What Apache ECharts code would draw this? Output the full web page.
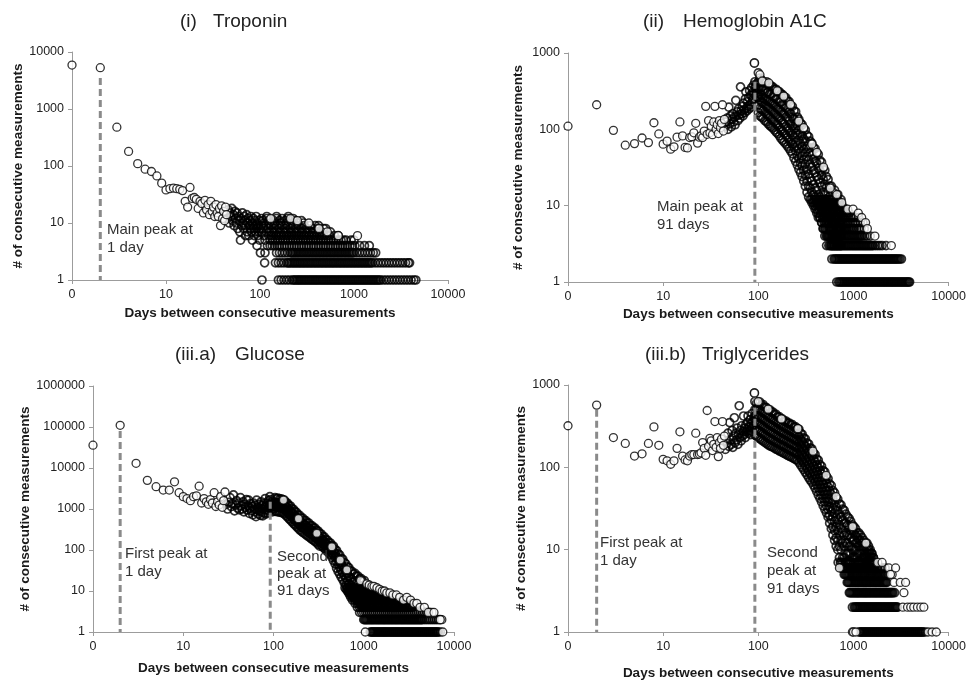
<!DOCTYPE html>
<html><head><meta charset="utf-8">
<script src="https://cdn.jsdelivr.net/npm/echarts@6/dist/echarts.min.js"></script>
<style>html,body{margin:0;padding:0;background:#fff;}#c{width:969px;height:681px;}</style>
</head><body><div id="c"></div>
<script>
// ---------------- tick labels ----------------
const xTickValues = [1, 10, 100, 1000, 10000];
const xTickLabels = ['0', '10', '100', '1000', '10000'];

// ---------------- (i) Troponin ----------------
const troponinDays = [1,2,3,4,5,6,7,8,9,10,11,12,13,14,15,16,17,18,19,20,21,22,23,24,25,26,27,28,29,30,31,32,33,34,35,36,37,38,39,40,41,42,43,44,45,46,47,48,49,50,51,52,53,54,55,56,57,58,59,60,61,62,63,64,65,66,67,68,69,70,71,72,73,74,75,76,77,78,79,80,81,82,83,84,85,86,87,88,89,90,91,92,93,94,95,96,97,98,99,100,101];
const troponinCounts = [5900,5300,480,180,110,88,80,67,50,38,
40,41,40,39,37,24,19,42,27,28,
26,18,24,22,15,25,17,21,14,24,
16,19,13,21,15,13,18,9,20,12,
16,11,19,14,12,17,10,15,13,18,
11,14,9,16,12,10,15,8,13,11,
7,5,12,9,15,10,8,13,11,6,
9,14,7,10,12,6,9,11,8,13,
7,10,5,9,12,8,6,11,7,9,
13,8,4,10,6,9,7,11,5,8,
3];
const troponinRow1 = [105,157,168,180,193,206,221,236,253,270,289,309,331,354,379,405,434,464,497,531,569,608,651,697,745,798,854,913,977,1046,1119,1197,1281,1371,1467,1570,1680,1797,1923,2058,2202,2356,2521,2697,2886,3088,3305,3536,3783,4048,4331,4550,228,245,261,279,299,320,342,366,392,419,449,480,514,550,588,629,674,721,771,825,883,945,1011,1082,1158,1239,1325,1418,1518,1624,1738,1860];
const troponinRow2 = [112,146,157,168,180,193,206,221,236,253,270,289,309,331,354,379,405,434,464,497,531,569,608,651,697,745,798,854,913,977,1046,1119,1197,1281,1371,1467,1570,1680,1797,1923,2058,2202,2356,2521,2697,2886,3088,3305,3536,3783,3900,199,213,229,245,262,280,299,320,342,366,392,419,449,480,514,550,588,629,674,721,771,825,883,945,1011,1082,1158,1239,1325,1418,1518];
const troponinRow3 = [113,150,161,172,184,197,211,225,241,258,276,295,316,338,362,387,414,443,474,507,543,581,621,665,711,761,814,871,932,998,1067,1142,1222,1308,1399,1497,1602,1700,218,233,249,267,286,306,327,350,375,401,429,459,491,525,562,601,643,688,736,788,843,901,965];
const troponinRow4 = [120,135,152,171,193,218,245,276,311,350,394,444,500,563,634,714,804,905,1019,1147,1292,1455,128,143,161,182,205,231,260,293,330,372,419,472,531,598,673,758,853,960];
const troponinRow5 = [113,128,145,164,186,211,239,270,306,346,392,443,502,568,643,728,824,933,1000,136,154,175,198,224,254,288,326,369,417,472,535,605,685,775];
const troponinRow6 = [110,124,140,158,179,203,230,260,294,333,377,427,483,547,619,680,132,149,168,191,216,245,277,313,354,401,454,514];
const troponinRow7 = [104,117,133,152,175,200,229,262,300,343,393,450,560,125,142,163,187,214,245,280,320,367,420];
const troponinRow8 = [108,122,140,160,184,211,241,276,316,362,414,474,500];
const troponinRow9 = [103,115,131,150,172,197,225,258,295,338,387,420];
const troponinRow10 = [110,126,143,165,190,218,250,290];
const troponinRow11 = [107,123,140,161,184,211,241,276];
const troponinRow12 = [104,118,150,172,197,225];
const troponinRow13 = [118,150,200];
const troponinExtraDays = [130,211,250,331,424,520,680,1090];
const troponinExtraCounts = [12,12,11,10,8,7,6,6];
const troponinPeakDays = [2];
const troponinPeakTops = [3500];

// ---------------- (ii) Hemoglobin A1C ----------------
const hbaDays = [1,2,3,4,5,6,7,8,9,10,11,12,13,14,15,16,17,18,19,20,21,22,23,24,25,26,27,28,29,30,31,32,33,34,35,36,37,38,39,40,41,42,43,44,45,46,47,48,49,50,51,52,53,54,55,56,57,58,59,60,61,62,63,64,65,66,67,68,69,70,71,72,73,74,75,76,77,78,79,80,81,82,83,84,85,86,87,88,89,90,91,92,93,94,95,96,97,98,99];
const hbaCounts = [110,210,97,62,65,77,67,122,87,64,
70,55,59,79,125,82,58,57,78,80,
90,120,66,79,82,78,95,200,86,130,
90,110,85,125,200,100,115,88,130,105,
120,210,95,135,110,125,140,100,195,118,
150,108,135,160,125,145,115,240,150,170,
130,185,155,140,360,175,160,200,150,220,
180,165,250,310,190,175,230,200,260,185,
320,210,280,195,350,230,300,250,380,290,
740,420,350,380,300,330,260,400,280];
const hbaBandDays = [100,104,108,112,117,122,127,132,137,142,148,154,160,167,173,180,187,195,203,211,219,228,237,247,257,267,278,289,300,312,325,338,351,365,380,395,411,427,444,462,481,500,520,541,562,585,608,633,658,684,712,740];
const hbaBandUpper = [550,470,445,415,405,420,390,385,365,360,335,335,315,310,290,285,265,260,235,230,205,200,175,170,145,135,120,115,102,98,84,80,70,66,58,56,49,47,39,37,31,29,24,22,18,18,15,16,13,14,11,12];
const hbaBandMid1 = [420,360,350,330,320,300,310,290,295,270,265,250,248,230,228,210,205,190,185,168,160,145,136,120,112,98,88,83,75,70,60,56,50,46,41,38,36,31,29,25,22,19,17,15,13,12,11,10,10,9,9,8];
const hbaBandMid2 = [340,290,280,255,250,240,235,230,220,215,208,195,185,180,170,160,158,145,140,128,118,110,102,90,84,72,65,60,55,50,44,40,35,32,29,27,24,22,20,18,15,14,12,11,10,8,8,7,7,7,6,6];
const hbaBandMid3 = [265,245,228,222,212,200,192,186,175,168,162,154,146,140,132,122,118,108,104,96,90,84,78,68,61,55,49,45,40,35,30,26,23,21,19,17,16,14,13,12,10,10,8,8,7,6,6,6,5,5,5,5];
const hbaBandMid4 = [210,188,182,176,168,158,152,144,136,130,126,118,114,106,98,94,88,84,78,74,68,64,58,52,45,41,36,33,29,25,21,18,17,15,14,13,11,10,10,9,7,7,6,6,5,4,4,4,4,4,4,4];
const hbaBandLower = [165,150,145,140,130,125,118,112,108,104,98,92,88,82,76,72,68,64,60,56,52,48,42,38,34,30,27,24,21,18,15,13,12,11,10,9,8,7,7,6,5,5,4,4,4,3,3,3,3,3,3,3];
const hbaRow1 = [668,700,740,780,825,870,920,970,1025,1080,1140,1200,1270,1340,1410,1490,1570,1660,1750,1850,1950,2060,2170,2290,2420,2550,2690,2840,3000,3170,3340,3530,3720,3890,720,760,803,847,895,945,997,1052,1110,1170,1235,1305,1375,1450,1530,1615,1705,1800,1900,2005,2115,2230,2355,2485,2620,2765,2920,3085,3255,3435,3625,3810];
const hbaRow2 = [593,625,660,697,735,776,819,864,912,962,1015,1071,1130,1193,1259,1328,1401,1479,1560,1646,1737,1833,1934,2041,2153,2272,2397,2530,2669,2816,2972,3190,642,678,716,755,797,841,888,937,988,1043,1100,1161,1225,1293,1364,1440,1519,1603,1691,1785,1883,1987,2097,2212,2334,2463,2600,2742,2894,3080];
const hbaRow3 = [522,551,581,613,647,683,720,760,802,846,893,942,994,1049,1107,1168,1232,1300,1372,1448,1528,1612,1701,1795,1894,2000,2200,566,597,630,665,701,740,781,824,869,917,968,1021,1077,1137,1200,1266,1336,1410,1488,1570];
const hbaRow4 = [500,528,557,588,620,654,690,728,768,810,855,902,952,1004,1060,1118,1180,1245,1313,1385,1500,542,572,604,637,672,709,748,789,832,878,927,978,1032,1089,1149,1212];
const hbaRow5 = [481,508,536,566,597,630,665,702,741,782,825,870,918,969,1022,1078,1138,1200,1300,522,551,581,613,647,683,721,761,803,847,894,943,995];
const hbaRow6 = [465,491,518,547,577,609,643,678,716,755,797,841,887,936,988,1042,1100,1180,1260,504,532,561,592,625,660,697,735,776,819,864];
const hbaRow7 = [444,469,495,522,551,581,613,647,683,720,760,802,846,893,942,994,1050,1130];
const hbaRow8 = [427,451,476,502,530,559,590,623,657,693,731,771,813,858,905];
const hbaRow9 = [411,434,458,483,510,538,568,599,632,667,704,743,784,827];
const hbaRow10 = [395,417,440,464,490,517,546,576,608,641,676,713,760];
const hbaRow11 = [380,401,423,446,471,497,524,553,583,615,650,700];
const hbaRow12 = [365,385,406,428,452,477,503,531,560,590,620,680];
const hbaExtraDays = [104,110,129,158,185,218,266,300,366,413,485,570,668,753,870,990,1125,1220,1340,1400,1680,2500];
const hbaExtraCounts = [520,430,405,320,272,212,128,105,64,50,32,17,14,11,9,9,8,7,6,5,4,3];
const hbaPeakDays = [92];
const hbaPeakTops = [420];

// ---------------- (iii.a) Glucose ----------------
const gluDays = [1,2,3,4,5,6,7,8,9,10,11,12,13,14,15,16,17,18,19,20,21,22,23,24,25,26,27,28,29,30,31,32,33,34,35,36,37,38,39,40,41,42,43,44,45,46,47,48,49,50,51,52,53,54,55,56,57,58,59,60,61,62,63,64,65,66,67,68,69,70,71,72,73,74,75,76,77,78,79,80,81,82,83,84,85,86,87,88,89,90,91,92,93,94,95,96,97,98,99,100];
const gluCounts = [36000,110000,13000,5000,3500,2900,2900,4600,2500,2000,
1800,1600,2000,2100,3600,1400,1800,1500,1300,1700,
1400,2500,1150,1500,1250,2000,1100,1600,2600,1300,
1000,1450,1900,1150,1350,2200,900,1250,1600,1050,
1400,950,1900,1200,1000,1500,850,1300,1100,1700,
950,1200,1650,780,1050,1350,900,1150,720,1400,
1000,850,1250,650,1650,950,1100,750,1300,900,
1050,700,1500,850,1200,680,1000,1350,800,1100,
1800,750,1200,950,1400,800,1050,1600,900,1250,
2000,1100,1700,950,1300,1500,850,1200,1400,1000];
const gluBandDays = [104,108,112,117,122,127,132,137,142,148,
154,160,167,173,180,187,195,203,211,219,
228,237,247,257,267,278,289,300,312,325,
338,351,365,380,395,411,427,444,462,481,
500,520,541,562,585,608,633,658,684,712,
740,770,800,832,865,900,936,973,1012];
const gluBandUpper = [1900,1800,1850,1750,1780,1680,1650,1450,1400,1220,
1180,1020,980,860,830,720,700,600,600,530,
520,460,450,395,390,345,340,300,290,255,
245,215,208,180,174,152,148,128,124,103,
97,81,76,63,60,50,46,39,37,31,
30,26,27,23,23,20,20,17,18];
const gluBandMid1 = [1450,1434,1410,1383,1356,1331,1257,1154,1068,971,
889,815,739,683,625,573,522,481,450,421,
393,366,342,318,297,279,259,244,223,203,
188,174,160,146,134,123,113,103,94,83,
68,59,52,45,40,35,31,27,23,21,
19,17,17,15,14,13,12,11,10];
const gluBandMid2 = [1130,1117,1100,1078,1057,1036,978,897,830,755,
691,632,572,529,484,443,404,372,349,327,
306,285,267,249,233,219,204,192,175,159,
155,143,131,120,110,101,93,84,75,66,
52,44,38,32,28,24,21,18,15,14,
12,11,11,10,9,8,8,7,6];
const gluBandLower = [880,870,855,838,820,805,760,697,644,585,
535,490,443,410,375,343,312,288,271,254,
238,223,209,195,183,172,161,152,137,124,
130,120,110,100,92,84,76,66,55,46,
36,30,26,22,19,16,14,12,10,9,
8,7,7,6,6,5,5,4,4];
const gluRow1 = [1180,1240,1300,1370,1440,1510,1590,1670,1750,1840,1940,2040,2140,2250,2360,2480,2610,2740,2880,3030,3180,3340,3510,3690,3880,4080,4290,4510,4740,4980,5230,5500,5780,6080,6390,6710,7050,1210,1270,1335,1405,1475,1550,1630,1710,1795,1890,1990,2090,2195,2305,2420,2545,2675,2810,2955,3105,3260,3425,3600,3785,3980,4185,4400,4625,4860,5105,5365,5640,5930,6235,6550];
const gluRow2 = [1000,1050,1100,1160,1220,1280,1350,1420,1490,1570,1650,1730,1820,1910,2010,2110,2220,2330,2450,2580,2710,2850,3000,3150,3310,3480,3660,3850,4050,4260,4480,4710,4950,5210,5480,5760,6060,6370,6700,7040,1025,1075,1130,1190,1250,1315,1385,1455,1530,1610,1690,1775,1865,1960,2060,2165,2275,2390,2515,2645,2780,2925,3075,3230,3395,3570,3755,3950,4155,4370];
const gluRow3 = [900,950,1000,1050,1100,1160,1220,1280,1350,1420,1490,1570,1650,1730,1820,1910,2010,2110,2220,2330,2450,2580,2710,2850,3000,3150,3310,3480,3660,3850,4050,4260,4480,4710,5000,5300];
const gluRow4 = [850,900,950,1000,1050,1100,1160,1220,1280,1350,1420,1490,1570,1650,1730,1820,1910,2010,2110,2220,2330,2450,2580,2710,2850,3000,3150,3310,3480];
const gluRow5 = [800,850,900,950,1000,1050,1100,1160,1220,1280,1350,1420,1490,1570,1650,1730,1820,1910,2010,2110,2220,2330,2450,2580,2710,2850,3000,3200,3500];
const gluRow6 = [750,800,850,900,950,1000,1050,1100,1160,1220,1280,1350,1420,1490,1570,1650,1730,1820,1910,2010,2110,2220,2330,2450,2580];
const gluRow7 = [720,760,800,850,900,950,1000,1050,1100,1160,1220,1280,1350,1420,1490,1570,1650,1730,1820,1910,2010,2110,2220,2400];
const gluRow8 = [700,740,780,820,870,920,970,1020,1080,1140,1200,1260,1330,1400,1470,1550,1630,1720,1800,1950];
const gluRow9 = [680,720,760,800,840,890,940,990,1040,1100,1160,1220,1290,1360,1430,1500,1600];
const gluRow10 = [660,700,740,780,820,870,920,970,1020,1080,1140,1200,1270,1340,1450];
const gluRow11 = [640,680,720,760,800,850,900,950,1000,1060,1120,1200,1300];
const gluRow12 = [620,660,700,740,780,830,880,930,990,1050,1110,1200];
const gluExtraDays = [129,189,302,443,548,650,920,1040,7510,7330,5700,1082,1150,1230,1300,1400,1500,1600,1700,1800,1950,2100,2300,2500,2760,3000,3300,3600,3870,4200,4700,5200,6000,7040];
const gluExtraCounts = [1650,580,256,120,57,33,18,1,1,2,3,15,14,13,13,12,11,10,10,9,9,8,8,7,6,7,6,5,5,4,4,3,3,2];
const gluPeakDays = [2, 92];
const gluPeakTops = [80000, 1500];

// ---------------- (iii.b) Triglycerides ----------------
const trigDays = [1,2,3,4,5,6,7,8,9,10,11,12,13,14,15,16,17,18,19,20,21,22,23,24,25,26,27,28,29,30,31,32,33,34,35,36,37,38,39,40,41,42,43,44,45,46,47,48,49,50,51,52,53,54,55,56,57,58,59,60,61,62,63,64,65,66,67,68,69,70,71,72,73,74,75,76,77,78,79,80,81,82,83,84,85,86,87,88,89,90,91];
const trigCounts = [320,570,230,195,137,146,195,310,185,125,
120,109,120,170,270,137,123,120,137,143,
143,260,143,145,150,200,170,140,490,180,
225,210,160,190,360,175,230,135,200,170,
220,360,185,240,165,210,195,260,180,350,
215,190,280,175,240,400,200,260,215,300,
190,250,560,230,280,210,320,240,270,420,
250,300,230,330,270,290,350,420,260,310,
280,380,250,340,300,450,270,360,320,400,
800];
const trigBandDays = [92,96,100,104,108,112,117,122,127,132,
137,142,148,154,160,167,173,180,187,195,
203,211,219,228,237,247,257,267,278,289,
300,312,325,338,351,365,380,395,411,427,
444,462,481,500,520,541,562,585,608,633,
658,684,712,740,770,800,
832,865,900,936,973,1012,1052,1094,1138,1184,1231,1280,1331,1385,1440,1498,1558,1620];
const trigBandUpper = [630,600,610,620,570,580,540,530,500,500,
470,470,440,440,410,410,385,385,365,365,
345,345,330,330,310,310,295,290,260,252,
228,222,198,192,172,168,150,143,126,122,
108,103,91,88,77,73,63,60,52,49,
43,41,36,35,31,30,
27,25,24,22,20,19,18,16,16,15,14,13,12,12,11,10,9,8];
const trigBandMid1 = [502,510,515,498,482,466,448,432,416,404,
391,381,369,357,346,334,325,316,308,300,
291,284,277,270,263,256,250,237,221,206,
194,181,168,156,146,137,127,117,107,99,
91,83,76,70,64,58,52,47,41,37,
33,30,27,25,23,21,
21,20,19,17,17,16,15,14,13,13,12,11,11,10,10,9,9,8];
const trigBandMid2 = [420,421,420,407,394,382,367,354,341,331,
322,314,304,295,287,277,270,263,256,250,
243,237,231,226,219,213,209,198,184,172,
162,151,140,130,122,114,106,97,89,82,
75,68,62,57,52,47,41,37,32,28,
25,23,20,18,16,15,
16,15,15,14,13,13,12,12,11,11,10,10,9,9,9,8,8,7];
const trigBandMid3 = [351,348,344,333,323,312,300,290,280,271,
265,259,251,243,238,230,224,218,214,208,
202,197,192,188,183,178,175,165,154,143,
135,126,117,108,101,95,88,81,74,68,
62,56,51,47,42,38,33,29,25,22,
19,17,15,13,12,11,
12,12,11,11,10,10,10,9,9,9,8,8,8,8,8,7,7,7];
const trigBandMid4 = [294,288,281,272,264,256,246,238,229,222,
218,213,207,201,197,191,186,182,178,173,
168,164,161,157,153,148,146,138,128,120,
113,105,97,90,84,79,73,67,61,56,
51,46,42,38,34,31,26,23,19,17,
14,13,11,10,8,8,
9,9,9,9,8,8,8,8,7,7,7,7,7,7,7,7,6,6];
const trigBandLower = [246,238,230,222,216,209,201,195,188,183,
179,176,171,166,163,158,155,151,148,144,
140,137,134,131,128,124,122,115,107,100,
94,87,81,75,70,66,61,56,51,46,
42,38,34,31,28,25,21,18,15,13,
11,10,8,7,6,6,
7,7,7,7,6,6,6,6,6,6,6,6,6,6,6,6,6,6];
const trigRow1 = [1150,1200,1260,1320,1380,1450,1520,1590,1670,1750,1830,1920,2010,2110,2210,2320,2430,2550,2670,2800,2940,3080,3230,3390,3550,3720,3900,4090,4290,4500,4720,4950,5190,5440,5700,1175,1230,1290,1350,1415,1485,1555,1630,1710,1790,1875,1965,2060,2160,2265,2375,2490,2610,2735,2870,3010,3155,3310,3470,3635,3810,3995,4190,4395,4610,4835,5070,5315];
const trigRow2 = [975,1020,1070,1120,1180,1240,1300,1360,1430,1500,1570,1650,1730,1810,1900,1990,2090,2190,2300,2410,2530,2650,2780,2900,1045,1095,1150,1210,1270,1330,1395,1465,1535,1610,1690,1770,1855,1945,2040,2140,2245,2355,2470,2590,2715,2840];
const trigRow3 = [905,950,1000,1050,1100,1150,1210,1270,1330,1390,1460,1530,1610,1690,1770,1860,1950,2050,2150,2250,2360,2480,2600,2700,925,975,1025,1075,1125,1180,1240,1300,1360,1425,1495,1570,1650,1730,1815,1905,2000,2100,2200,2305,2420,2540];
const trigRow4 = [860,900,950,1000,1050,1100,1150,1210,1270,1330,1390,1460,1530,1610,1690,1770,1860,1950,2050,2150,2250,880,925,975,1025,1075,1125,1180,1240,1300,1360,1425,1495,1570,1650,1730,1815,1905,2000,2100,2200];
const trigRow5 = [800,840,880,920,970,1020,1070,1120,1180,1240,1300,1360,1430,1500,1570,1650,1730,1810,1900,1990,2090,2190,2300,820,860,900,945,995,1045,1095,1150,1210,1270,1330,1395,1465,1535,1610,1690,1770,1855,1945,2040,2140];
const trigRow6 = [750,790,830,870,920,970,1020,1070,1120,1180,1240,1300,1360,1430,1500,1570,1650,1730,1810,1900,2000,2150,730,770,810,850,895,945,995,1045,1095,1150,1210,1270,1330,1395,1465,1535,1610,1690,1770];
const trigRow7 = [690,730,770,815,860,905,955,1010,1065,1120,1185,1250,1320,1400,1480,1560,1650];
const trigExtraDays = [100,127,175,261,375,516,657,712,980,1350,1800,2000,2350,2550,2770,2450,2670,3100,3530,3390,3300,3700,4000,4300,4700,5100,5490,975,1000,1060,6100,6700,7420];
const trigExtraCounts = [630,508,387,295,157,80,44,6,19,12,7,7,6,5,6,5,4,4,4,3,2,2,2,2,2,2,2,1,1,1,1,1,1];
const trigPeakDays = [2, 92];
const trigPeakTops = [500, 720];

// ---------------- helpers ----------------
const FONT = '"Liberation Sans", Arial, Helvetica, sans-serif';
function zip(days, counts) { return days.map((d, i) => [d, counts[i]]); }
function row(days, count) { return days.map(d => [d, count]); }
function lanes(days, laneList) { const out = []; laneList.forEach(l => l.forEach((c, i) => out.push([days[i], c]))); return out; }
function early(days, counts, from, to) { return zip(days, counts).filter(p => p[0] >= from && p[0] <= to); }

// points drawn as outlines only where they pile up, white-filled where they stand alone
const troponinDense = [].concat(
  row(troponinRow1,1), row(troponinRow2,2), row(troponinRow3,3), row(troponinRow4,4), row(troponinRow5,5),
  row(troponinRow6,6), row(troponinRow7,7), row(troponinRow8,8), row(troponinRow9,9), row(troponinRow10,10),
  row(troponinRow11,11), row(troponinRow12,12), row(troponinRow13,13),
  early(troponinDays, troponinCounts, 45, 1e9));
const troponinWhite = [].concat(early(troponinDays, troponinCounts, 0, 44), zip(troponinExtraDays, troponinExtraCounts));

const hbaDense = [].concat(
  row(hbaRow1,1), row(hbaRow2,2), row(hbaRow3,3), row(hbaRow4,4), row(hbaRow5,5), row(hbaRow6,6),
  row(hbaRow7,7), row(hbaRow8,8), row(hbaRow9,9), row(hbaRow10,10), row(hbaRow11,11), row(hbaRow12,12),
  lanes(hbaBandDays, [hbaBandLower, hbaBandMid4, hbaBandMid3, hbaBandMid2, hbaBandMid1, hbaBandUpper]),
  early(hbaDays, hbaCounts, 45, 1e9));
const hbaWhite = [].concat(early(hbaDays, hbaCounts, 0, 44), zip(hbaExtraDays, hbaExtraCounts), early(hbaDays, hbaCounts, 91, 91));

const gluDense = [].concat(
  row(gluRow1,1), row(gluRow2,2), row(gluRow3,3), row(gluRow4,4), row(gluRow5,5), row(gluRow6,6),
  row(gluRow7,7), row(gluRow8,8), row(gluRow9,9), row(gluRow10,10), row(gluRow11,11), row(gluRow12,12),
  lanes(gluBandDays, [gluBandLower, gluBandMid2, gluBandMid1, gluBandUpper]),
  early(gluDays, gluCounts, 30, 1e9));
const gluWhite = [].concat(early(gluDays, gluCounts, 0, 29), zip(gluExtraDays, gluExtraCounts));

const trigDense = [].concat(
  row(trigRow1,1), row(trigRow2,2), row(trigRow3,3), row(trigRow4,4), row(trigRow5,5), row(trigRow6,6), row(trigRow7,7),
  lanes(trigBandDays, [trigBandLower, trigBandMid4, trigBandMid3, trigBandMid2, trigBandMid1, trigBandUpper]),
  early(trigDays, trigCounts, 45, 1e9));
const trigWhite = [].concat(early(trigDays, trigCounts, 0, 44), zip(trigExtraDays, trigExtraCounts), early(trigDays, trigCounts, 91, 91));

const panels = [
  { dense: troponinDense, white: troponinWhite, yMax: 10000, peaks: troponinPeakDays, tops: troponinPeakTops,
    grid: { left: 72, top: 52, width: 376, height: 228 }, yGap: 43, xGap: 26 },
  { dense: hbaDense, white: hbaWhite, yMax: 1000, peaks: hbaPeakDays, tops: hbaPeakTops,
    grid: { left: 568, top: 53, width: 383, height: 229 }, yGap: 43, xGap: 25 },
  { dense: gluDense, white: gluWhite, yMax: 1000000, peaks: gluPeakDays, tops: gluPeakTops,
    grid: { left: 93, top: 386, width: 361, height: 246 }, yGap: 60, xGap: 29 },
  { dense: trigDense, white: trigWhite, yMax: 1000, peaks: trigPeakDays, tops: trigPeakTops,
    grid: { left: 568, top: 385, width: 383, height: 256 }, yGap: 36, xGap: 34 }
];

const axisLineStyle = { color: '#9c9c9c', width: 1 };
const nameStyle = { fontFamily: FONT, fontSize: 13.5, fontWeight: 'bold', color: '#1a1a1a' };
const labelStyle = { fontFamily: FONT, fontSize: 12.5, color: '#222' };

const grids = [], xAxes = [], yAxes = [], series = [];
panels.forEach((p, i) => {
  grids.push(Object.assign({ containLabel: false }, p.grid));
  xAxes.push({
    type: 'log', logBase: 10, gridIndex: i, min: 1, max: 10000,
    name: 'Days between consecutive measurements', nameLocation: 'middle', nameGap: p.xGap,
    nameTextStyle: nameStyle,
    axisLine: { show: true, lineStyle: axisLineStyle },
    axisTick: { show: true, length: 4, lineStyle: axisLineStyle },
    minorTick: { show: false }, splitLine: { show: false },
    axisLabel: Object.assign({ margin: 8, showMinLabel: true, showMaxLabel: true,
      formatter: v => { const k = xTickValues.findIndex(t => Math.abs(Math.log10(t) - Math.log10(v)) < 1e-6); return k >= 0 ? xTickLabels[k] : ''; } }, labelStyle)
  });
  yAxes.push({
    type: 'log', logBase: 10, gridIndex: i, min: 1, max: p.yMax,
    name: '# of consecutive measurements', nameLocation: 'middle', nameRotate: 90, nameGap: p.yGap,
    nameTextStyle: nameStyle,
    axisLine: { show: true, lineStyle: axisLineStyle },
    axisTick: { show: true, length: 4, lineStyle: axisLineStyle },
    minorTick: { show: false }, splitLine: { show: false },
    axisLabel: Object.assign({ margin: 8, showMinLabel: true, showMaxLabel: true,
      formatter: v => String(Math.round(v)) }, labelStyle)
  });
  const base = { type: 'scatter', xAxisIndex: i, yAxisIndex: i, symbol: 'circle', symbolSize: 8,
    silent: true, animation: false, progressive: 0, large: false, clip: false };
  series.push(Object.assign({}, base, { data: p.dense, z: 2,
    itemStyle: { color: 'rgba(255,255,255,0)', borderColor: '#000000', borderWidth: 1.7 } }));
  series.push(Object.assign({}, base, { data: p.white, z: 4,
    itemStyle: { color: '#ffffff', borderColor: '#000000', borderWidth: 1.3 } }));
  p.peaks.forEach((d, k) => {
    series.push({
      type: 'line', xAxisIndex: i, yAxisIndex: i, data: [[d, p.tops[k]], [d, 1]],
      symbol: 'none', showSymbol: false, silent: true, animation: false, z: 3,
      lineStyle: { color: '#8a8a8a', width: 3, type: [7, 4] }
    });
  });
});

function txt(x, y, text, size, opts) {
  return Object.assign({ type: 'text', x: x, y: y, silent: true, z: 100,
    style: Object.assign({ text: text, fill: '#222', font: size + 'px ' + FONT, align: 'left', verticalAlign: 'middle' }, opts || {}) });
}
const graphics = [
  txt(180, 22, '(i)', 19), txt(213, 22, 'Troponin', 19),
  txt(643, 22, '(ii)', 19), txt(683, 22, 'Hemoglobin A1C', 19),
  txt(175, 355, '(iii.a)', 19), txt(235, 355, 'Glucose', 19),
  txt(645, 355, '(iii.b)', 19), txt(702, 355, 'Triglycerides', 19),
  txt(107, 221, 'Main peak at\n1 day', 15, { verticalAlign: 'top', lineHeight: 18, fill: '#333' }),
  txt(657, 198, 'Main peak at\n91 days', 15, { verticalAlign: 'top', lineHeight: 18, fill: '#333' }),
  txt(125, 545, 'First peak at\n1 day', 15, { verticalAlign: 'top', lineHeight: 18, fill: '#333' }),
  txt(277, 548, 'Second\npeak at\n91 days', 15, { verticalAlign: 'top', lineHeight: 17, fill: '#333' }),
  txt(600, 534, 'First peak at\n1 day', 15, { verticalAlign: 'top', lineHeight: 18, fill: '#333' }),
  txt(767, 544, 'Second\npeak at\n91 days', 15, { verticalAlign: 'top', lineHeight: 18, fill: '#333' })
];

const chart = echarts.init(document.getElementById('c'), null, { renderer: 'canvas' });
chart.setOption({
  backgroundColor: '#ffffff',
  animation: false,
  grid: grids, xAxis: xAxes, yAxis: yAxes, series: series,
  graphic: { elements: graphics }
});
</script>
</body></html>
